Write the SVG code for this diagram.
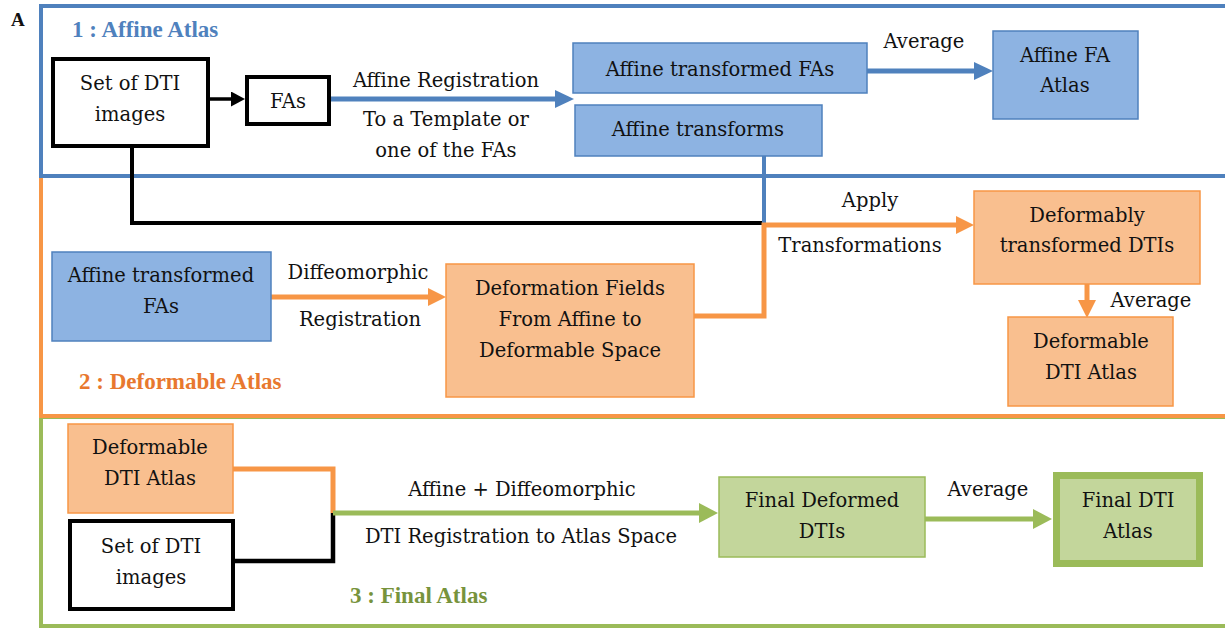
<svg xmlns="http://www.w3.org/2000/svg" width="1225" height="628" viewBox="0 0 1225 628">
<style>
text{font-family:"DejaVu Serif",serif;font-size:19.5px;fill:#111;text-anchor:middle}
.sec{font-family:"Liberation Serif","DejaVu Serif",serif;font-weight:bold;font-size:23px;text-anchor:start}
.bf{fill:#8DB3E2;stroke:#4F81BD;stroke-width:1.5}
.of{fill:#F9BF8F;stroke:#F79646;stroke-width:1.5}
.gf{fill:#C3D69B;stroke:#9BBB59;stroke-width:1.5}
.wk{fill:#fff;stroke:#000;stroke-width:4}
.c{fill:none;stroke-linejoin:miter}
</style>
<defs>
<marker id="ab" markerUnits="userSpaceOnUse" markerWidth="20" markerHeight="20" refX="0" refY="9" orient="auto"><path d="M0,0L19,9L0,18z" fill="#4F81BD"/></marker>
<marker id="ao" markerUnits="userSpaceOnUse" markerWidth="20" markerHeight="20" refX="0" refY="9" orient="auto"><path d="M0,0L18,9L0,18z" fill="#F79646"/></marker>
<marker id="ag" markerUnits="userSpaceOnUse" markerWidth="22" markerHeight="22" refX="0" refY="10" orient="auto"><path d="M0,0L19,10L0,20z" fill="#9BBB59"/></marker>
<marker id="ak" markerUnits="userSpaceOnUse" markerWidth="16" markerHeight="16" refX="0" refY="7.5" orient="auto"><path d="M0,0L14,7.5L0,15z" fill="#000"/></marker>
</defs>
<rect width="1225" height="628" fill="#fff"/>
<g id="frames">
<rect x="41" y="417" width="1200" height="209" fill="none" stroke="#9BBB59" stroke-width="4"/>
<rect x="41" y="176" width="1200" height="240" fill="none" stroke="#F79646" stroke-width="4"/>
<rect x="41" y="6" width="1200" height="170" fill="none" stroke="#4F81BD" stroke-width="4"/>
</g>
<text class="sec" x="11" y="26" style="font-size:19px;fill:#111">A</text>
<text class="sec" x="72" y="37" style="fill:#4F81BD">1 : Affine Atlas</text>
<text class="sec" x="79" y="389" style="fill:#E8782E">2 : Deformable Atlas</text>
<text class="sec" x="350" y="603" style="fill:#77933C">3 : Final Atlas</text>

<g id="connectors">
<path class="c" d="M209,99H231" stroke="#000" stroke-width="3.5" marker-end="url(#ak)"/>
<path class="c" d="M132,147V223H764" stroke="#000" stroke-width="4"/>
<path class="c" d="M764,156V225" stroke="#4F81BD" stroke-width="4"/>
<path class="c" d="M330,99H555" stroke="#4F81BD" stroke-width="5" marker-end="url(#ab)"/>
<path class="c" d="M867,71H974" stroke="#4F81BD" stroke-width="5" marker-end="url(#ab)"/>
<path class="c" d="M271,297H428" stroke="#F79646" stroke-width="5" marker-end="url(#ao)"/>
<path class="c" d="M694,316H764V225H956" stroke="#F79646" stroke-width="5" marker-end="url(#ao)"/>
<path class="c" d="M1087,284V300" stroke="#F79646" stroke-width="5" marker-end="url(#ao)"/>
<path class="c" d="M233,469H333V513" stroke="#F79646" stroke-width="5"/>
<path class="c" d="M235,561H333V513" stroke="#000" stroke-width="4.5"/>
<path class="c" d="M333,513H699" stroke="#9BBB59" stroke-width="5" marker-end="url(#ag)"/>
<path class="c" d="M925,519H1033" stroke="#9BBB59" stroke-width="5" marker-end="url(#ag)"/>
<text x="446" y="87">Affine Registration</text>
<text x="446" y="126">To a Template or</text>
<text x="446" y="157">one of the FAs</text>
<text x="924" y="48">Average</text>
<text x="358" y="279">Diffeomorphic</text>
<text x="360" y="326">Registration</text>
<text x="870" y="207">Apply</text>
<text x="860" y="252">Transformations</text>
<text x="1151" y="307">Average</text>
<text x="522" y="496">Affine + Diffeomorphic</text>
<text x="521" y="543">DTI Registration to Atlas Space</text>
<text x="988" y="496">Average</text>
</g>

<g id="n-set1"><rect class="wk" x="53" y="59" width="155" height="87"/><text x="130" y="90">Set of DTI</text><text x="130" y="121">images</text></g>
<g id="n-fas"><rect class="wk" x="247" y="77" width="82" height="47"/><text x="288" y="108">FAs</text></g>
<g id="n-atfa1"><rect class="bf" x="573" y="43" width="294" height="50"/><text x="720" y="76">Affine transformed FAs</text></g>
<g id="n-at"><rect class="bf" x="575" y="105" width="247" height="51"/><text x="698" y="136">Affine transforms</text></g>
<g id="n-afa"><rect class="bf" x="993" y="31" width="145" height="88"/><text x="1065" y="62">Affine FA</text><text x="1065" y="92">Atlas</text></g>
<g id="n-atfa2"><rect class="bf" x="52" y="252" width="219" height="89"/><text x="161" y="282">Affine transformed</text><text x="161" y="313">FAs</text></g>
<g id="n-df"><rect class="of" x="446" y="264" width="248" height="133"/><text x="570" y="295">Deformation Fields</text><text x="570" y="326">From Affine to</text><text x="570" y="357">Deformable Space</text></g>
<g id="n-dtd"><rect class="of" x="974" y="191" width="226" height="93"/><text x="1087" y="222">Deformably</text><text x="1087" y="252">transformed DTIs</text></g>
<g id="n-dda2"><rect class="of" x="1008" y="317" width="165" height="89"/><text x="1091" y="348">Deformable</text><text x="1091" y="379">DTI Atlas</text></g>
<g id="n-dda3"><rect class="of" x="68" y="424" width="165" height="89"/><text x="150" y="454">Deformable</text><text x="150" y="485">DTI Atlas</text></g>
<g id="n-set3"><rect class="wk" x="70" y="521" width="163" height="88" stroke-width="4.5"/><text x="151" y="553">Set of DTI</text><text x="151" y="584">images</text></g>
<g id="n-fdd"><rect class="gf" x="719" y="477" width="206" height="80"/><text x="822" y="507">Final Deformed</text><text x="822" y="538">DTIs</text></g>
<g id="n-fda"><rect x="1056.5" y="475.5" width="143" height="88" fill="#C3D69B" stroke="#9BBB59" stroke-width="7"/><text x="1128" y="507">Final DTI</text><text x="1128" y="538">Atlas</text></g>
</svg>
